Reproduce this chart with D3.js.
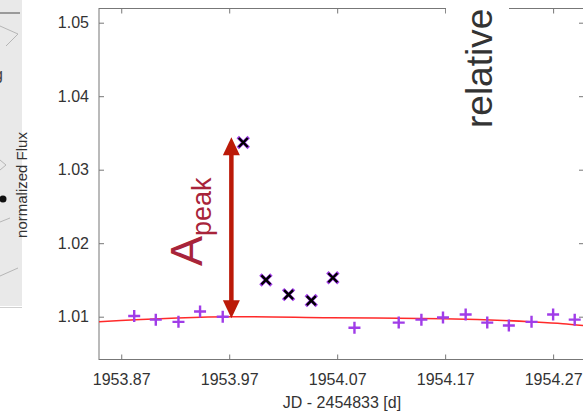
<!DOCTYPE html>
<html>
<head>
<meta charset="utf-8">
<script src="https://cdn.jsdelivr.net/npm/d3@7"></script>
<style>
  body { margin: 0; background: #fff; }
  svg { display: block; font-family: "Liberation Sans", Arial, sans-serif; }
</style>
</head>
<body>
<div id="chart"></div>
<script>
// quiescent points (purple +)
var quietJD   = [1953.882, 1953.902, 1953.923, 1953.943, 1953.964,
                 1954.086, 1954.127, 1954.148, 1954.168, 1954.189,
                 1954.209, 1954.229, 1954.250, 1954.270, 1954.290];
var quietFlux = [1.0101, 1.0096, 1.0093, 1.0107, 1.0100,
                 1.0085, 1.0092, 1.0096, 1.0099, 1.0103,
                 1.0092, 1.0088, 1.0093, 1.0103, 1.0096];
// flare points (black x)
var flareJD   = [1953.983, 1954.004, 1954.025, 1954.046, 1954.066];
var flareFlux = [1.0337, 1.0150, 1.0130, 1.0122, 1.0153];
// fitted trend (red line)
var fitJD   = [1953.8494, 1953.9737, 1954.0635, 1954.168, 1954.249, 1954.279, 1954.2986];
var fitFlux = [1.00932, 1.01000, 1.00986, 1.00973, 1.00932, 1.00905, 1.00878];
// amplitude arrow
var arrowJD = 1953.972;
var arrowFlux = [1.0098, 1.0344];

var xTicks = [1953.87, 1953.97, 1954.07, 1954.17, 1954.27];
var yTicks = [1.01, 1.02, 1.03, 1.04, 1.05];

var W = 583, H = 415;
var svg = d3.select("#chart").append("svg").attr("width", W).attr("height", H);

// plot box (window.top is reserved, so p* names)
var pL = 99, pR = 584, pT = 8.5, pB = 359.5;
var x = d3.scaleLinear().domain([1953.8494, 1954.2986]).range([pL, pR]);
var y = d3.scaleLinear().domain([1.004177, 1.051932]).range([pB, pT]);

// piece of the neighbouring figure on the left
var g0 = svg.append("g");
g0.append("rect").attr("x", 0).attr("y", 0).attr("width", 22).attr("height", 306).attr("fill", "#e9e9e9");
g0.append("rect").attr("x", 0).attr("y", 12).attr("width", 20).attr("height", 2).attr("fill", "#9a9a9a");
g0.append("path").attr("d", "M0,26 L18,34 L6,46 M0,160 L6,165 L0,170 M0,222 L10,218 M0,276 L18,268")
  .attr("stroke", "#b5b5b5").attr("fill", "none").attr("stroke-width", 1);
g0.append("text").attr("x", -6).attr("y", 80).attr("font-size", 16).attr("fill", "#444").text("g");
g0.append("circle").attr("cx", 3).attr("cy", 199).attr("r", 3.5).attr("fill", "#111");
g0.append("rect").attr("x", 0).attr("y", 307).attr("width", 22).attr("height", 1).attr("fill", "#d0d0d0");

// axes with inward ticks
var fmt = d3.format(".2f");
var ax = svg.append("g").attr("class", "axes");
ax.append("g").attr("transform", "translate(0," + pB + ")")
  .call(d3.axisBottom(x).tickValues(xTicks).tickFormat(fmt).tickSizeInner(-5).tickSizeOuter(0).tickPadding(14));
ax.append("g").attr("transform", "translate(0," + pT + ")")
  .call(d3.axisTop(x).tickValues(xTicks).tickFormat("").tickSizeInner(-5).tickSizeOuter(0));
ax.append("g").attr("transform", "translate(" + pL + ",0)")
  .call(d3.axisLeft(y).tickValues(yTicks).tickFormat(fmt).tickSizeInner(-5).tickSizeOuter(0).tickPadding(10));
ax.append("g").attr("transform", "translate(" + pR + ",0)")
  .call(d3.axisRight(y).tickValues(yTicks).tickFormat("").tickSizeInner(-5).tickSizeOuter(0));
ax.selectAll(".domain").remove();
ax.selectAll(".tick line").attr("stroke", "#777");
ax.selectAll(".tick text").attr("font-size", 16).attr("fill", "#333").attr("font-family", "Liberation Sans, Arial, sans-serif");

svg.append("rect").attr("x", pL).attr("y", pT).attr("width", pR - pL).attr("height", pB - pT)
  .attr("fill", "none").attr("stroke", "#777").attr("stroke-width", 1);

// axis titles
svg.append("text").attr("x", 342).attr("y", 408).attr("text-anchor", "middle")
  .attr("font-size", 16).attr("fill", "#333").text("JD - 2454833 [d]");
svg.append("text").attr("transform", "translate(27,185) rotate(-90)").attr("text-anchor", "middle")
  .attr("font-size", 15).attr("fill", "#333").text("normalized Flux");

// fit
var fit = fitJD.map(function (d, i) { return [d, fitFlux[i]]; });
svg.append("path").datum(fit)
  .attr("d", d3.line().x(function (d) { return x(d[0]); }).y(function (d) { return y(d[1]); }).curve(d3.curveMonotoneX))
  .attr("fill", "none").attr("stroke", "#ff2a2a").attr("stroke-width", 1.6);

function plus(cx, cy, s) { return "M" + (cx - s) + "," + cy + "H" + (cx + s) + "M" + cx + "," + (cy - s) + "V" + (cy + s); }
function cross(cx, cy, s) { return "M" + (cx - s) + "," + (cy - s) + "L" + (cx + s) + "," + (cy + s) + "M" + (cx - s) + "," + (cy + s) + "L" + (cx + s) + "," + (cy - s); }

var purple = "#a03ce8";
svg.append("g").selectAll("path").data(quietJD).enter().append("path")
  .attr("d", function (d, i) { return plus(x(d), y(quietFlux[i]), 6); })
  .attr("stroke", purple).attr("stroke-width", 2.4);

var fl = svg.append("g");
fl.selectAll("path.p").data(flareJD).enter().append("path").attr("class", "p")
  .attr("d", function (d, i) { return cross(x(d), y(flareFlux[i]), 5.5); })
  .attr("stroke", purple).attr("stroke-width", 3.4);
fl.selectAll("path.k").data(flareJD).enter().append("path").attr("class", "k")
  .attr("d", function (d, i) { return cross(x(d), y(flareFlux[i]), 4.5); })
  .attr("stroke", "#000").attr("stroke-width", 2.4);

// A_peak arrow
var ar = "#bb1a08";
var axp = x(arrowJD), y0 = y(arrowFlux[0]), y1 = y(arrowFlux[1]);
svg.append("line").attr("x1", axp).attr("x2", axp).attr("y1", y1 + 15).attr("y2", y0 - 15)
  .attr("stroke", ar).attr("stroke-width", 4.5);
svg.append("path").attr("d", "M" + axp + "," + y1 + "L" + (axp - 8.5) + "," + (y1 + 18) + "L" + (axp + 8.5) + "," + (y1 + 18) + "Z").attr("fill", ar);
svg.append("path").attr("d", "M" + axp + "," + y0 + "L" + (axp - 8.5) + "," + (y0 - 18) + "L" + (axp + 8.5) + "," + (y0 - 18) + "Z").attr("fill", ar);

var lab = svg.append("text").attr("transform", "translate(202,266) rotate(-90)").attr("fill", "#a8243a");
lab.append("tspan").attr("font-size", 45).text("A");
lab.append("tspan").attr("font-size", 27).attr("dy", 9).text("peak");

// overlapping label of the next panel
svg.append("rect").attr("x", 446).attr("y", 0).attr("width", 63).attr("height", 135).attr("fill", "#fff");
svg.append("text").attr("transform", "translate(492,128) rotate(-90)")
  .attr("font-size", 37).attr("fill", "#333").text("relative flux");
</script>
</body>
</html>
